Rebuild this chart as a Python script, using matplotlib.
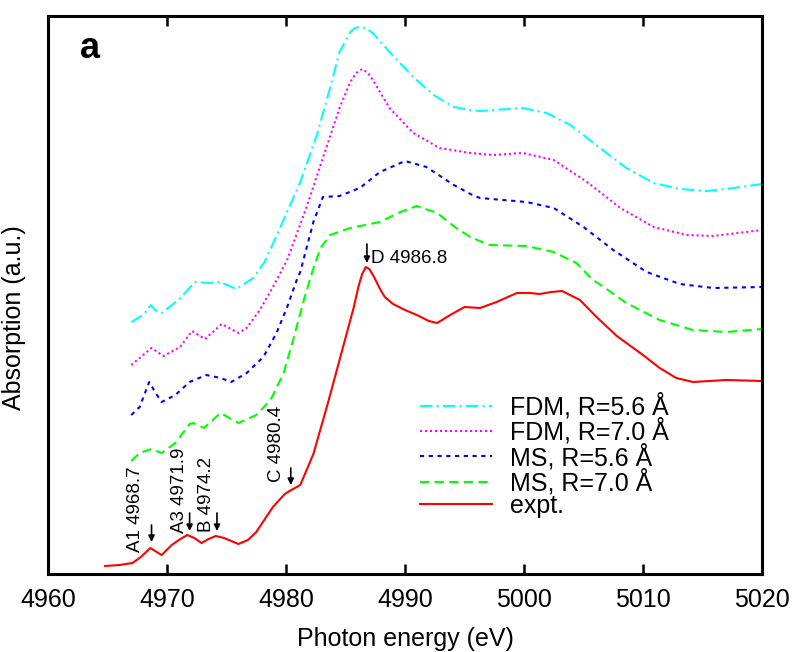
import matplotlib
matplotlib.use('Agg')
import matplotlib.pyplot as plt

plt.rcParams['font.family'] = ['Liberation Sans', 'DejaVu Sans']

# expt. curve
expt_e = [4964.8, 4966.0, 4967.1, 4967.8, 4968.6, 4969.0, 4969.55, 4970.4, 4971.0, 4971.7,
          4972.3, 4972.9, 4973.5, 4974.1, 4974.8, 4976.0, 4976.8, 4977.5, 4978.9, 4979.9,
          4980.3, 4981.2, 4982.3, 4983.5, 4984.5, 4985.7, 4986.1, 4986.4, 4986.7, 4987.0,
          4987.4, 4987.9, 4988.3, 4989.0, 4990.0, 4991.0, 4992.0, 4992.7, 4993.8, 4995.0,
          4996.3, 4997.7, 4999.4, 5000.5, 5001.3, 5002.3, 5003.2, 5004.7, 5006.1, 5007.8,
          5010.0, 5011.4, 5012.8, 5014.2, 5017.0, 5020.0]
expt_a = [8, 9, 11, 17, 26, 23, 19, 29, 34, 39,
          36, 31, 35, 38, 36, 30, 34, 42, 67, 80,
          83, 89, 120, 170, 214, 267, 288, 300, 307, 305,
          297, 285, 277, 270, 264, 259, 253, 251, 259, 267,
          266, 272, 281, 281, 280, 282, 283, 274, 257, 238,
          219, 206, 196, 192, 194, 193]

# FDM, R=5.6
fdm56_e = [4967.0, 4968.0, 4968.65, 4969.0, 4969.55, 4970.95, 4972.35, 4973.5, 4974.45, 4975.85,
           4977.25, 4978.2, 4979.5, 4981.2, 4982.6, 4983.7, 4984.5, 4985.4, 4985.8, 4986.2,
           4986.7, 4987.3, 4988.7, 4990.7, 4992.4, 4994.1, 4995.5, 4996.3, 4999.9, 5001.9,
           5003.9, 5006.4, 5008.6, 5010.9, 5013.1, 5015.4, 5017.6, 5020.0]
fdm56_a = [252, 259, 269, 264, 261, 274, 292, 291, 292, 285,
           296, 312, 346, 392, 439, 486, 522, 542, 546, 547,
           546, 541, 522, 497, 479, 467, 464, 463, 466, 461,
           449, 426, 406, 391, 385, 383, 386, 390]

# FDM, R=7.0
fdm70_e = [4967.0, 4968.0, 4968.7, 4969.7, 4971.1, 4972.1, 4973.2, 4974.6, 4976.0, 4976.7,
           4977.8, 4978.9, 4980.1, 4981.7, 4983.1, 4984.5, 4985.4, 4985.9, 4986.4, 4986.9,
           4987.3, 4988.7, 4990.7, 4992.9, 4995.5, 4997.4, 4999.9, 5002.5, 5005.3, 5008.1,
           5010.9, 5013.7, 5015.9, 5020.0]
fdm70_a = [209, 219, 226, 218, 227, 243, 235, 250, 241, 246,
           264, 287, 314, 366, 416, 466, 492, 501, 505, 501,
           494, 466, 441, 426, 421, 419, 421, 414, 392, 366,
           347, 339, 338, 344]

# MS, R=5.6
ms56_e = [4967.0, 4967.7, 4968.5, 4969.0, 4969.55, 4970.7, 4971.9, 4973.3, 4974.5, 4975.4,
          4976.7, 4978.1, 4979.2, 4980.1, 4980.9, 4981.2, 4982.3, 4983.1, 4984.5, 4986.2,
          4987.9, 4990.0, 4991.8, 4994.1, 4995.5, 4996.3, 5000.2, 5002.5, 5005.0, 5007.5,
          5010.3, 5013.1, 5015.9, 5020.0]
ms56_a = [159, 167, 192, 182, 172, 179, 192, 199, 196, 192,
          201, 217, 241, 267, 294, 302, 352, 377, 378, 386,
          402, 413, 407, 389, 380, 376, 372, 366, 347, 324,
          302, 290, 286, 287]

# MS, R=7.0
ms70_e = [4967.0, 4967.7, 4968.7, 4969.55, 4970.7, 4971.9, 4972.2, 4973.1, 4974.5, 4976.0,
          4977.5, 4978.7, 4979.8, 4980.6, 4981.5, 4982.2, 4982.9, 4983.7, 4985.4, 4987.9,
          4989.6, 4991.0, 4992.7, 4994.3, 4995.5, 4997.1, 5000.2, 5002.5, 5004.4, 5005.8,
          5006.7, 5008.6, 5011.4, 5014.2, 5017.0, 5020.0]
ms70_a = [113, 121, 125, 121, 131, 150, 151, 146, 161, 151,
          159, 174, 201, 234, 274, 302, 326, 339, 346, 352,
          362, 368, 361, 346, 337, 329, 328, 322, 311, 294,
          287, 271, 254, 244, 242, 245]

# feature labels: name, energy, arrow tail, arrow tip, label x, label y
feat_names = ['A1', 'A3', 'B', 'C']
feat_e = [4968.7, 4971.9, 4974.2, 4980.4]
feat_tail = [49, 61, 61, 106]
feat_tip = [32, 43, 43, 89]
feat_tx = [4967.37, 4971.09, 4973.36, 4979.22]
feat_ty = [22, 41, 42, 92]

fig = plt.figure(figsize=(7.93, 6.52), dpi=100)
ax = fig.add_axes([48/793, 1-574/652, 714/793, 558/652])

ax.plot(fdm56_e, fdm56_a, color='#00ffff', lw=1.5, ls=(0, (6, 2, 1, 2)), label='FDM, R=5.6 Å')
ax.plot(fdm70_e, fdm70_a, color='#ff00ff', lw=1.5, ls=(0, (1, 1.4)), label='FDM, R=7.0 Å')
ax.plot(ms56_e, ms56_a, color='#0000ff', lw=1.5, ls=(0, (2, 2.2)), label='MS, R=5.6 Å')
ax.plot(ms70_e, ms70_a, color='#00ff00', lw=1.5, ls=(0, (4.5, 2.5)), label='MS, R=7.0 Å')
ax.plot(expt_e, expt_a, color='#ff0000', lw=1.5, label='expt.')

arrow = dict(arrowstyle='-|>', color='k', lw=1.2, mutation_scale=9, shrinkA=0, shrinkB=0)
for name, e, t0, t1, tx, ty in zip(feat_names, feat_e, feat_tail, feat_tip, feat_tx, feat_ty):
    ax.annotate('', xy=(e, t1), xytext=(e, t0), arrowprops=arrow)
    ax.text(tx, ty, '%s %.1f' % (name, e), rotation=90, ha='center', va='bottom', fontsize=13.5)

ax.annotate('', xy=(4986.8, 311), xytext=(4986.8, 330), arrowprops=arrow)
ax.text(4987.12, 311, 'D 4986.8', ha='left', va='baseline', fontsize=13.5)

ax.text(0.045, 0.925, 'a', transform=ax.transAxes, fontsize=26, fontweight='bold', va='baseline')

ax.set_xlim(4960, 5020)
ax.set_ylim(0, 558)
ax.set_xticks([4960, 4970, 4980, 4990, 5000, 5010, 5020])
ax.set_yticks([])
ax.tick_params(axis='x', direction='in', top=True, length=7, width=1.8, labelsize=18, pad=10)
for s in ax.spines.values():
    s.set_linewidth(2.2)
ax.set_xlabel('Photon energy (eV)', fontsize=18, labelpad=11)
ax.set_ylabel('Absorption (a.u.)', fontsize=18)
ax.yaxis.set_label_coords(-0.031, 0.46)

ax.legend(loc='upper left', bbox_to_anchor=(0.521, 0.324), frameon=False, fontsize=18,
          handlelength=2.9, handletextpad=0.72, labelspacing=-0.05, borderpad=0, borderaxespad=0)

plt.savefig('out.png', dpi=100)
plt.close()
